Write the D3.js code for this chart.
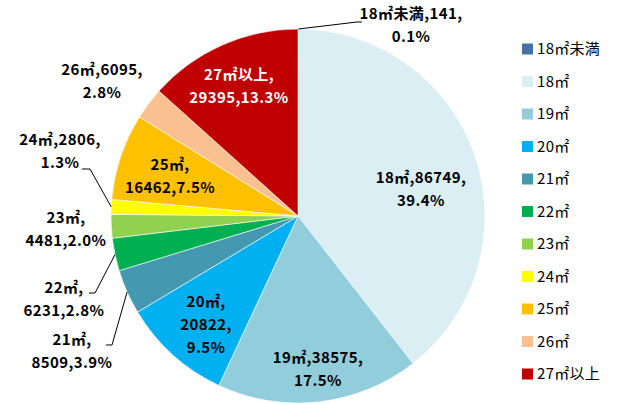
<!DOCTYPE html>
<html>
<head>
<meta charset="utf-8">
<script src="https://cdn.jsdelivr.net/npm/d3@7"></script>
<style>
  body { margin: 0; background: #fff; }
  svg { display: block; }
</style>
</head>
<body>
<script>
// Data
const categories = ['18㎡未満', '18㎡', '19㎡', '20㎡', '21㎡', '22㎡', '23㎡', '24㎡', '25㎡', '26㎡', '27㎡以上'];
const counts = [141, 86749, 38575, 20822, 8509, 6231, 4481, 2806, 16462, 6095, 29395];
const percents = ['0.1%', '39.4%', '17.5%', '9.5%', '3.9%', '2.8%', '2.0%', '1.3%', '7.5%', '2.8%', '13.3%'];
const colors = ['#4472a8', '#daeef3', '#92cddc', '#00b0f0', '#4498b0', '#00b050', '#92d050', '#ffff00', '#ffc000', '#fac090', '#c00000'];

// Layout
const width = 622;
const height = 403;
const cx = 298;
const cy = 216;
const radius = 187;
const lineH = 23;

// label placement relative to pie centre: text lines, centre of first line, optional leader
const labelLayout = [
  { lines: d => [`${d.cat},${d.n},`, d.p], x: 113, y: -202, leader: [[64, -194], [59, -194]] },
  { lines: d => [`${d.cat},${d.n},`, d.p], x: 123, y: -38 },
  { lines: d => [`${d.cat},${d.n},`, d.p], x: 20, y: 142 },
  { lines: d => [`${d.cat},`, `${d.n},`, d.p], x: -92, y: 86 },
  { lines: d => [`${d.cat},`, `${d.n},${d.p}`], x: -226, y: 124, leader: [[-192, 129], [-186, 129]] },
  { lines: d => [`${d.cat},`, `${d.n},${d.p}`], x: -234, y: 72, leader: [[-209, 77], [-203, 77]] },
  { lines: d => [`${d.cat},`, `${d.n},${d.p}`], x: -232, y: 2 },
  { lines: d => [`${d.cat},${d.n},`, d.p], x: -238, y: -76, leader: [[-216, -47], [-208, -47]] },
  { lines: d => [`${d.cat},`, `${d.n},${d.p}`], x: -128, y: -51 },
  { lines: d => [`${d.cat},${d.n},`, d.p], x: -196, y: -146 },
  { lines: d => [`${d.cat},`, `${d.n},${d.p}`], x: -59, y: -141, fill: '#fff' }
];

const data = categories.map((cat, i) => ({ cat, n: counts[i], p: percents[i], color: colors[i], layout: labelLayout[i] }));

const svg = d3.select('body')
  .append('svg')
  .attr('width', width)
  .attr('height', height);

const g = svg.append('g')
  .attr('transform', `translate(${cx},${cy})`);

const pie = d3.pie()
  .value(d => d.n)
  .sort(null);

const arc = d3.arc()
  .innerRadius(0)
  .outerRadius(radius);

const arcs = pie(data);

g.selectAll('path.slice')
  .data(arcs)
  .enter()
  .append('path')
  .attr('class', 'slice')
  .attr('d', arc)
  .attr('fill', d => d.data.color)
  .attr('stroke', '#fff')
  .attr('stroke-width', 0.6);

// Leader lines: from label end to the slice edge
g.selectAll('polyline.leader')
  .data(arcs.filter(d => d.data.layout.leader))
  .enter()
  .append('polyline')
  .attr('class', 'leader')
  .attr('fill', 'none')
  .attr('stroke', '#000')
  .attr('stroke-width', 1)
  .attr('points', d => {
    const a = (d.startAngle + d.endAngle) / 2;
    const edge = [Math.sin(a) * radius, -Math.cos(a) * radius];
    return [...d.data.layout.leader, edge].map(p => p.join(',')).join(' ');
  });

// Data labels
const labels = g.selectAll('text.label')
  .data(arcs)
  .enter()
  .append('text')
  .attr('class', 'label')
  .attr('text-anchor', 'middle')
  .attr('font-family', '"Noto Sans CJK JP", "Noto Sans", sans-serif')
  .attr('font-weight', 'bold')
  .attr('font-size', '15px')
  .attr('letter-spacing', '0.4px')
  .attr('fill', d => d.data.layout.fill || '#000');

labels.selectAll('tspan')
  .data(d => d.data.layout.lines(d.data).map(t => ({ t, x: d.data.layout.x, y: d.data.layout.y })))
  .enter()
  .append('tspan')
  .attr('x', d => d.x)
  .attr('y', (d, i) => d.y + i * lineH)
  .attr('dy', '0.35em')
  .text(d => d.t);

// Legend
const legendY = d3.scalePoint()
  .domain(categories)
  .range([49, 374]);

const legend = svg.append('g')
  .selectAll('g')
  .data(data)
  .enter()
  .append('g')
  .attr('transform', d => `translate(522,${legendY(d.cat)})`);

legend.append('rect')
  .attr('x', 0)
  .attr('y', -5.5)
  .attr('width', 11)
  .attr('height', 11)
  .attr('fill', d => d.color);

legend.append('text')
  .attr('x', 15)
  .attr('dy', '0.35em')
  .attr('font-family', '"Noto Sans CJK JP", "Noto Sans", sans-serif')
  .attr('font-size', '15px')
  .attr('letter-spacing', '0.3px')
  .attr('fill', '#000')
  .text(d => d.cat);
</script>
</body>
</html>
